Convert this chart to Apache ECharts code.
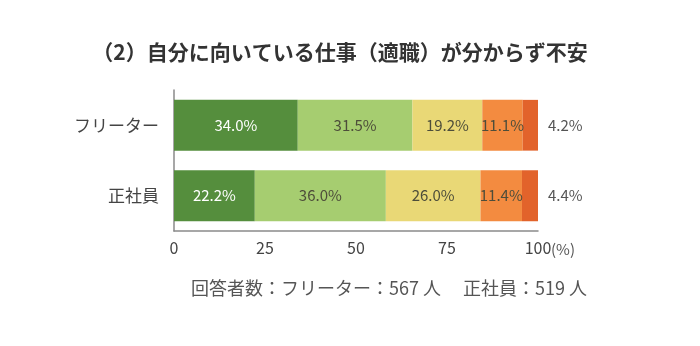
<!DOCTYPE html>
<html><head><meta charset="utf-8">
<script src="https://cdn.jsdelivr.net/npm/echarts@6/dist/echarts.min.js"></script>
<style>html,body{margin:0;padding:0;background:#fff}#c{width:700px;height:346px}</style>
</head><body><div id="c"></div>
<script>
const categories = ['フリーター', '正社員'];
const seriesNames = ['s1', 's2', 's3', 's4', 's5'];
const s1 = [34.0, 22.2];
const s2 = [31.5, 36.0];
const s3 = [19.2, 26.0];
const s4 = [11.1, 11.4];
const s5 = [4.2, 4.4];
const xTicks = [0, 25, 50, 75, 100];
const colors = ['#558e3d', '#a6cd70', '#e9d876', '#f38b40', '#e2632b'];
const labelColors = ['#ffffff', '#4d4d3a', '#4d4d3a', '#4d4d3a', '#555555'];
const allData = [s1, s2, s3, s4, s5];
const font = '"Noto Sans CJK JP", "Noto Sans", sans-serif';

const chart = echarts.init(document.getElementById('c'));
chart.setOption({
  animation: false,
  grid: { left: 174, right: 162, top: 90, bottom: 115, containLabel: false },
  xAxis: {
    type: 'value', min: xTicks[0], max: xTicks[xTicks.length - 1], interval: 25,
    axisLine: { show: true, lineStyle: { color: '#8a8a8a', width: 1.5 } },
    axisTick: { show: false },
    splitLine: { show: false },
    axisLabel: { color: '#444', fontSize: 16, fontFamily: font, margin: 9 }
  },
  yAxis: {
    type: 'category', data: categories, inverse: true,
    axisLine: { show: true, lineStyle: { color: '#8a8a8a', width: 1.5 } },
    axisTick: { show: false },
    axisLabel: { color: '#444', fontSize: 17, fontFamily: font, margin: 15 }
  },
  series: allData.map((d, i) => ({
    name: seriesNames[i], type: 'bar', stack: 'all', data: d,
    barWidth: '72%',
    itemStyle: { color: colors[i] },
    label: {
      show: true,
      position: i === 4 ? 'right' : 'inside',
      distance: 10,
      color: labelColors[i], fontSize: 15, fontFamily: font,
      formatter: p => p.value.toFixed(1) + '%'
    }
  })),
  graphic: [
    { type: 'text', x: 340, y: 52, style: { text: '（2）自分に向いている仕事（適職）が分からず不安', font: 'bold 21px ' + font, fill: '#333', align: 'center', verticalAlign: 'middle' } },
    { type: 'text', x: 551, y: 249, style: { text: '(%)', font: '15px ' + font, fill: '#555', align: 'left', verticalAlign: 'middle' } },
    { type: 'text', x: 389, y: 288, style: { text: '回答者数：フリーター：567 人　 正社員：519 人', font: '18px ' + font, fill: '#555', align: 'center', verticalAlign: 'middle' } }
  ]
});
</script></body></html>
